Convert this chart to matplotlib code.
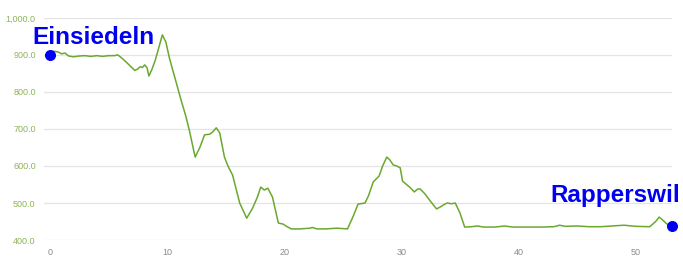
import numpy as np
import matplotlib as mpl
mpl.use('Agg')
import matplotlib.pyplot as plt

#--------------------------------------------
# elevation profile
km = [0.0, 0.3, 0.7, 1.0, 1.3, 1.6, 2.0, 2.5, 3.0, 3.5, 4.0, 4.5, 5.0, 5.5, 5.8,
      6.2, 6.7, 7.25, 7.5, 7.7, 7.9, 8.1, 8.3, 8.45, 8.7, 9.0, 9.3, 9.6, 9.9,
      10.2, 10.7, 11.2, 11.6, 11.9, 12.4, 12.8, 13.2, 13.65, 13.9, 14.2, 14.5,
      14.9, 15.2, 15.6, 16.2, 16.8, 17.3, 17.7, 18.0, 18.3, 18.6, 19.0, 19.5,
      19.9, 20.2, 20.6, 21.3, 22.2, 22.4, 22.8, 23.5, 24.5, 25.4, 25.9, 26.3,
      26.9, 27.2, 27.6, 28.1, 28.4, 28.75, 29.0, 29.3, 29.6, 29.9, 30.1, 30.7,
      31.1, 31.4, 31.6, 32.0, 32.4, 33.0, 33.3, 33.6, 33.9, 34.3, 34.6, 35.0,
      35.4, 36.0, 36.5, 37.0, 38.0, 38.8, 39.5, 40.5, 42.0, 43.0, 43.5, 44.0,
      45.0, 46.0, 47.0, 48.0, 49.0, 50.0, 51.2, 51.7, 52.0, 52.3, 52.6, 52.9,
      53.1]
elev = [905, 910, 908, 903, 905, 897, 895, 897, 898, 896, 898, 896, 898, 898, 900,
        890, 875, 858, 862, 868, 866, 873, 865, 843, 860, 886, 920, 954, 935,
        892, 835, 778, 735, 697, 624, 650, 684, 686, 692, 703, 689,
        624, 600, 575, 500, 459, 486, 515, 543, 535, 540, 516, 446,
        443, 437, 430, 430, 432, 434, 430, 430, 432, 430, 465, 497,
        500, 520, 557, 573, 600, 624, 617, 603, 600, 595, 559, 543,
        530, 538, 538, 525, 508, 484, 489, 495, 500, 498, 500, 473,
        435, 436, 438, 435, 435, 438, 435, 435, 435, 436, 440, 437,
        438, 436, 436, 438, 440, 437, 436, 450, 462, 454, 445, 438,
        438]

places = ['Einsiedeln', 'Rapperswil']
place_km = [0.0, 53.1]
place_elev = [900, 438]

yticks = [400, 500, 600, 700, 800, 900, 1000]
xticks = [0, 10, 20, 30, 40, 50]
#--------------------------------------------

plt.rcParams['font.family'] = ['Liberation Sans', 'DejaVu Sans']

fig = plt.figure(figsize=(6.83, 2.67), dpi=100)
ax = fig.add_axes([0.0644, 0.101, 0.9196, 0.832])

ax.plot(km, elev, color='#6aa82e', lw=1.1, zorder=3)
ax.scatter(place_km, place_elev, s=48, color='#0000f0', zorder=4, clip_on=False)

ax.text(-1.45, 930, places[0], color='#0000f0', fontsize=17.5, fontweight='bold',
        ha='left', va='baseline')
ax.text(53.75, 503, places[1], color='#0000f0', fontsize=17.5, fontweight='bold',
        ha='right', va='baseline')

ax.set_xlim(-0.5, 53.1)
ax.set_ylim(400, 1000)
ax.set_yticks(yticks)
ax.set_yticklabels(['{:,.1f}'.format(v) for v in yticks])
ax.set_xticks(xticks)

ax.grid(axis='y', color='#e4e4e4', lw=0.9)
ax.set_axisbelow(True)
for s in ax.spines.values():
    s.set_visible(False)
ax.tick_params(axis='both', length=0, labelsize=6.5)
ax.tick_params(axis='y', colors='#8db456', pad=6)
ax.tick_params(axis='x', colors='#8a8a8a', pad=6)

fig.savefig('out.png', dpi=100)
